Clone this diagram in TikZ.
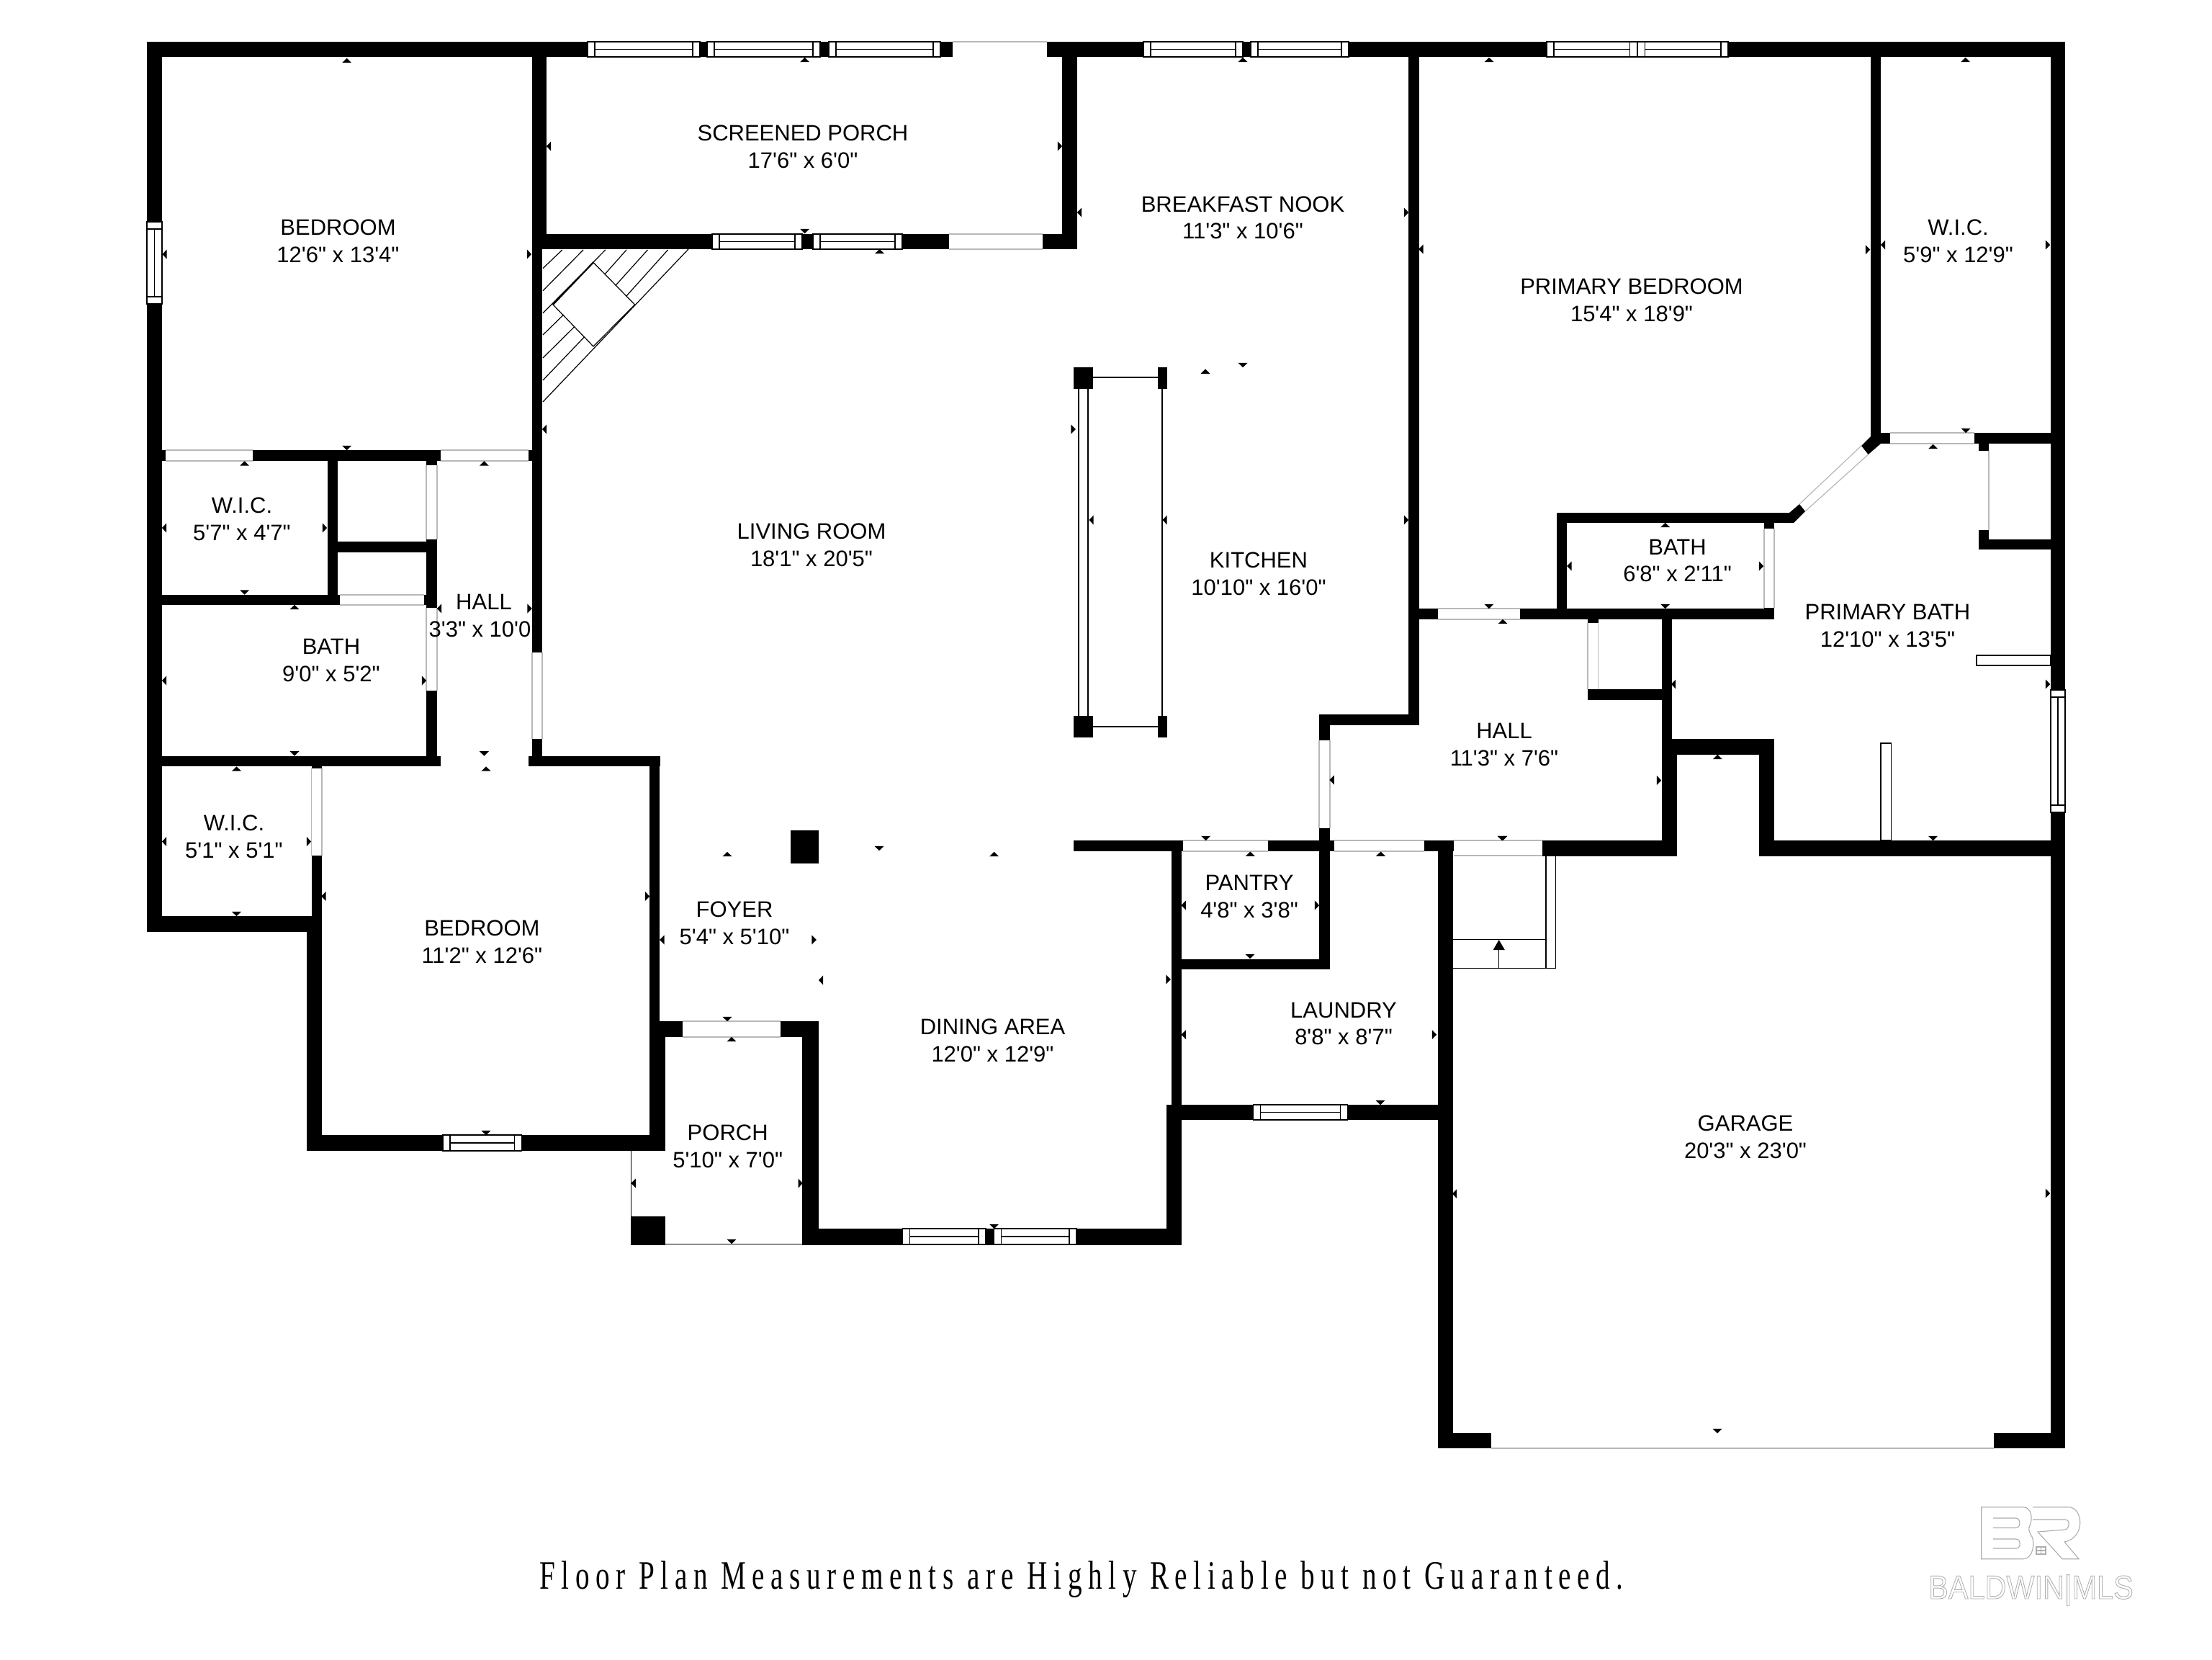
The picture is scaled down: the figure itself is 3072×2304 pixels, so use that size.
\documentclass[tikz,border=0pt]{standalone}
\usepackage{fontspec}
\newfontfamily\planfont{Liberation Sans}
\newfontfamily\footfont[LetterSpace=22]{Liberation Serif}
\definecolor{doorgray}{gray}{0.72}
\definecolor{logogray}{gray}{0.68}
\tikzset{
  wallfill/.style={fill=black,draw=none},
  thinline/.style={draw=black,line width=1.3pt},
  doorline/.style={draw=doorgray,line width=1.2pt},
  logoline/.style={draw=logogray,line width=1.1pt},
  roomlabel/.style={align=center,inner sep=0pt,font=\planfont\fontsize{31}{37.5}\selectfont},
}
\newcommand{\wl}[4]{\fill[wallfill] (#1,#2) rectangle (#3,#4);}
\newcommand{\hwin}[4]{% x1 x2 y1 y2
  \fill[white] (#1,#3) rectangle (#2,#4);
  \draw[thinline] (#1,#3) rectangle (#2,#4);
  \draw[thinline] ({#1+10},#3) -- ({#1+10},#4) ({#2-10},#3) -- ({#2-10},#4);
  \draw[thinline] ({#1+10},{(#3+#4)/2}) -- ({#2-10},{(#3+#4)/2});}
\newcommand{\vwin}[4]{% x1 x2 y1 y2
  \fill[white] (#1,#3) rectangle (#2,#4);
  \draw[thinline] (#1,#3) rectangle (#2,#4);
  \draw[thinline] (#1,{#3+10}) -- (#2,{#3+10}) (#1,{#4-10}) -- (#2,{#4-10});
  \draw[thinline] ({(#1+#2)/2},{#3+10}) -- ({(#1+#2)/2},{#4-10});}
\newcommand{\hdoor}[4]{%
  \fill[white] (#1,#3) rectangle (#2,#4);
  \draw[doorline] (#1,#3) -- (#2,#3) (#1,#4) -- (#2,#4);}
\newcommand{\vdoor}[4]{%
  \fill[white] (#1,#3) rectangle (#2,#4);
  \draw[doorline] (#1,#3) -- (#1,#4) (#2,#3) -- (#2,#4);}
\newcommand{\tku}[2]{\fill ({#1-6.5},{#2+3.2}) -- ({#1+6.5},{#2+3.2}) -- (#1,{#2-3.2}) -- cycle;}
\newcommand{\tkd}[2]{\fill ({#1-6.5},{#2-3.2}) -- ({#1+6.5},{#2-3.2}) -- (#1,{#2+3.2}) -- cycle;}
\newcommand{\tkl}[2]{\fill ({#1+3.2},{#2-6.5}) -- ({#1+3.2},{#2+6.5}) -- ({#1-3.2},#2) -- cycle;}
\newcommand{\tkr}[2]{\fill ({#1-3.2},{#2-6.5}) -- ({#1-3.2},{#2+6.5}) -- ({#1+3.2},#2) -- cycle;}
\begin{document}
\begin{tikzpicture}[x=1pt,y=-1pt]
\useasboundingbox (0,0) rectangle (3072,2304);
\fill[white] (0,0) rectangle (3072,2304);

% ---------- fireplace
\begin{scope}[draw=black,line width=1.2pt]
\draw (754,558) -- (956,346);
\draw (824,364.4) -- (881.6,423) -- (824,481) -- (768,423) -- cycle;
\draw (754,372.6) -- (780.8,347);
\draw (754,403.7) -- (810,347);
\draw (754,434.8) -- (840.8,347);
\draw[line width=2pt] (824,364.4) -- (768,423);
\draw (840,380.7) -- (870,347);
\draw (854.8,396.5) -- (899.4,347);
\draw (870,411) -- (927.5,347);
\draw (754,465) -- (782.7,437);
\draw (754,497) -- (797.4,454);
\draw (754,528) -- (811.4,468);
\end{scope}

% ---------- walls
\wl{204}{58}{2868}{79}
\wl{204}{58}{225}{1294}
\wl{739}{58}{759}{346}
\wl{739}{346}{753}{1064}
\wl{739}{325}{1496}{346}
\wl{1475}{58}{1496}{346}
\wl{204}{625}{739}{640}
\wl{454.5}{640}{469}{840}
\wl{469}{752}{592}{766.5}
\wl{592}{625}{607}{1064}
\wl{204}{826}{592}{840}
\wl{204}{1050}{612}{1064}
\wl{733.6}{1050}{917}{1064}
\wl{902}{1050}{916}{1440}
\wl{902}{1418}{923.5}{1598}
\wl{432.5}{1050}{447}{1272}
\wl{425.5}{1272}{447}{1598}
\wl{204}{1272}{447}{1294}
\wl{425.5}{1576}{923.5}{1598}
\wl{902}{1418}{1137}{1440}
\wl{1114}{1418}{1137}{1728.5}
\wl{1114}{1706}{1641}{1728.5}
\wl{1620}{1534}{1641}{1728.5}
\wl{1620}{1534}{2017.5}{1555}
\wl{1626.5}{1167}{1641}{1534}
\wl{1491}{1167}{2143}{1182}
\wl{2142}{1167}{2329}{1189}
\wl{1996.5}{1167}{2017.5}{2011}
\wl{1996.5}{1990}{2071}{2011}
\wl{2769}{1990}{2868}{2011}
\wl{2847.5}{58}{2868}{2011}
\wl{2443}{1167}{2868}{1189}
\wl{2443}{1026}{2464}{1189}
\wl{2307.6}{1026}{2464}{1048}
\wl{2307.6}{1048}{2329}{1189}
\wl{2307.6}{845}{2321.6}{1026}
\wl{2205}{957}{2307.6}{972}
\wl{2205}{845}{2219.6}{972}
\wl{1956}{845}{2464}{860}
\wl{1832}{992}{1847}{1346.4}
\wl{1832}{992}{1970.5}{1007}
\wl{1956}{58}{1970.5}{1007}
\wl{1626.5}{1332}{1847}{1346.4}
\wl{2162}{712}{2175.6}{860}
\wl{2162}{712}{2489}{726}
\wl{2450}{712}{2464}{860}
\wl{2597.5}{58}{2612}{616}
\wl{2597.5}{601}{2848}{616}
\wl{2748}{601}{2762}{763}
\wl{2748}{749}{2848}{763}
\fill[wallfill] (2480,712) -- (2485,712) -- (2499,700) -- (2507,710) -- (2491,726) -- (2480,726) -- cycle;
\fill[wallfill] (2585,619) -- (2598,606) -- (2612,606) -- (2612,616) -- (2594.6,631) -- cycle;
\draw[doorline] (2499,700) -- (2585,619) (2507,710) -- (2594.6,631);

% columns and posts
\wl{1097.5}{1153}{1137}{1199}
\wl{875.5}{1689}{923.5}{1728.5}
\wl{1491.4}{510}{1518}{539.5}
\wl{1607.5}{510}{1621}{539.5}
\wl{1491.4}{993.7}{1518}{1023.7}
\wl{1607.5}{993.7}{1621}{1023.7}

% kitchen counter lines
\begin{scope}[draw=black,line width=2pt]
\draw (1518,523.5) -- (1607.5,523.5);
\draw (1518,1008.7) -- (1607.5,1008.7);
\draw (1498,539.5) -- (1498,993.7);
\draw (1511.4,539.5) -- (1511.4,993.7);
\draw (1614.3,539.5) -- (1614.3,993.7);
\end{scope}

% ---------- doors
\hdoor{229.5}{351.4}{625}{640}
\hdoor{611.6}{733.6}{625}{640}
\hdoor{472}{589}{826}{840}
\hdoor{1643}{1761}{1167}{1182}
\hdoor{1853}{1978}{1167}{1182}
\hdoor{2019}{2142}{1167}{1188}
\hdoor{1997}{2110.5}{845}{860}
\hdoor{2625}{2742}{601}{616}
\hdoor{947.5}{1084}{1418}{1440}
\hdoor{1318}{1448}{325}{346}
\fill[white] (1323,58) rectangle (1454,79);
\draw[doorline] (1323,58) -- (1454,58);
\vdoor{592}{607}{646}{749}
\vdoor{592}{607}{844}{959}
\vdoor{739}{753}{906}{1026}
\vdoor{432.5}{447}{1067}{1188}
\vdoor{1832}{1847}{1028}{1150}
\vdoor{2205}{2219.6}{865}{957}
\vdoor{2450}{2464}{734}{844}
\fill[white] (2748,625.6) rectangle (2762,735.7);
\draw[doorline] (2762,625.6) -- (2762,735.7);
\draw[doorline] (2071,2011) -- (2769,2011);

% ---------- windows
\hwin{816}{972}{58}{79}
\hwin{982}{1139}{58}{79}
\hwin{1151}{1306}{58}{79}
\hwin{1588}{1726}{58}{79}
\hwin{1737}{1873}{58}{79}
\hwin{2148}{2273.5}{58}{79}
\hwin{2274.5}{2400}{58}{79}
\hwin{989}{1114}{325}{346}
\hwin{1129}{1253}{325}{346}
\hwin{615}{724.5}{1576}{1598}
\hwin{1253.6}{1369}{1706}{1728}
\hwin{1380.6}{1495}{1706}{1728}
\hwin{1740.5}{1871.6}{1534}{1555}
\vwin{204}{225}{308}{422}
\vwin{2848}{2868}{958}{1128}

% ---------- shower glass and garage step
\draw[thinline,fill=white] (2745,910) rectangle (2848,924);
\draw[thinline,fill=white] (2612,1032) rectangle (2626.5,1167);
\draw[thinline,fill=white] (2147,1188) rectangle (2160.6,1344.6);
\draw[thinline] (2017.5,1304.5) -- (2147,1304.5) (2017.5,1344.3) -- (2147,1344.3);
\draw[thinline] (2081.7,1344.3) -- (2081.7,1318);
\fill (2073.7,1319) -- (2089.8,1319) -- (2081.7,1305) -- cycle;

% porch thin lines
\draw[thinline] (876.5,1598) -- (876.5,1689);
\draw[thinline] (923.5,1727.5) -- (1114,1727.5);

% ---------- measurement ticks
\tku{481.7}{84}\tku{1117.6}{83}\tku{1726}{83}\tku{2068}{83}\tku{2729.6}{83}
\tkd{1117.6}{321}\tku{1221.5}{349}\tkl{762}{203}\tkr{1472}{203}
\tkl{228.5}{353}\tkr{735}{353}\tkd{481.7}{622}\tku{339.7}{643.5}\tku{672.4}{643.5}
\tkl{228}{733}\tkr{451}{733}\tkl{756}{596}\tkl{1499}{295}\tkr{1953}{295}
\tkl{1973.4}{346}\tkr{2594}{346.7}\tkl{2615}{340}\tkr{2844}{340}
\tku{1674}{515.6}\tkd{1726}{507}\tkr{1490.6}{596}\tkl{1515.5}{722}\tkl{1617.5}{722}\tkr{1953}{722}
\tkd{2730}{598}\tku{2684.5}{620}\tku{2312.7}{729}\tkl{2179.4}{786}\tkr{2446}{786}\tkd{2312.7}{842}
\tkd{2067.8}{842}\tku{2087}{863}\tkl{2324}{950}\tkr{2844}{950}\tku{2385.4}{1051}\tkr{2304}{1083.5}
\tkd{2087}{1164}\tkd{2684.5}{1164}\tkl{1849.6}{1083}
\tkd{339.7}{822.5}\tku{409}{843}\tkl{610}{845}\tkr{735.6}{845}\tkl{228}{945}\tkr{589}{945}
\tkd{409}{1046.4}\tkd{672.4}{1046.4}\tku{675}{1067.5}\tku{328.5}{1067.5}\tkl{228}{1168.5}\tkr{429}{1168.5}
\tkd{328.5}{1269}\tkl{449.4}{1244.5}\tkr{899}{1244.5}\tkl{919.4}{1305}
\tku{1010}{1186}\tkr{1130.6}{1305}\tkl{1140}{1361}\tkd{1010}{1415}\tku{1016}{1443}\tkd{675}{1573}
\tkl{879.6}{1643}\tkr{1111.7}{1643}\tkd{1016}{1724}
\tkd{1221}{1178}\tku{1380.6}{1186}\tkr{1622.6}{1360}\tkd{1674.6}{1164}\tku{1736.4}{1185.7}
\tkd{2086}{1164}\tku{1917.5}{1185.7}\tkl{1643.7}{1257}\tkr{1829}{1257}\tkd{1736}{1328}
\tkl{1643.7}{1436.6}\tkr{1992}{1436.6}\tkd{1917}{1531}\tkl{2020}{1657.5}\tkd{1380.6}{1703}
\tkd{2385}{1987}\tkr{2844}{1657}

% ---------- room labels
\node[roomlabel] (r1) at (469.5,335) {BEDROOM\\12'6" x 13'4"};
\node[roomlabel] (r2) at (1115,204) {SCREENED PORCH\\17'6" x 6'0"};
\node[roomlabel] (r3) at (1726,302.5) {BREAKFAST NOOK\\11'3" x 10'6"};
\node[roomlabel] (r4) at (2266,417) {PRIMARY BEDROOM\\15'4" x 18'9"};
\node[roomlabel] (r5) at (2719.5,335) {W.I.C.\\5'9" x 12'9"};
\node[roomlabel] (r6) at (336,720.6) {W.I.C.\\5'7" x 4'7"};
\node[roomlabel] (r7) at (672,855) {HALL\\3'3" x 10'0\phantom{"}};
\node[roomlabel] (r8) at (460,917) {BATH\\9'0" x 5'2"};
\node[roomlabel] (r9) at (1127,757) {LIVING ROOM\\18'1" x 20'5"};
\node[roomlabel] (r10) at (1748,797) {KITCHEN\\10'10" x 16'0"};
\node[roomlabel] (r11) at (2329.5,778.7) {BATH\\6'8" x 2'11"};
\node[roomlabel] (r12) at (2621.4,869) {PRIMARY BATH\\12'10" x 13'5"};
\node[roomlabel] (r13) at (2089,1034) {HALL\\11'3" x 7'6"};
\node[roomlabel] (r14) at (325,1162) {W.I.C.\\5'1" x 5'1"};
\node[roomlabel] (r15) at (669.4,1308) {BEDROOM\\11'2" x 12'6"};
\node[roomlabel] (r16) at (1020,1282) {FOYER\\5'4" x 5'10"};
\node[roomlabel] (r17) at (1010.7,1592) {PORCH\\5'10" x 7'0"};
\node[roomlabel] (r18) at (1378.5,1445) {DINING AREA\\12'0" x 12'9"};
\node[roomlabel] (r19) at (1735,1245) {PANTRY\\4'8" x 3'8"};
\node[roomlabel] (r20) at (1866,1421.5) {LAUNDRY\\8'8" x 8'7"};
\node[roomlabel] (r21) at (2424,1579) {GARAGE\\20'3" x 23'0"};

% ---------- footer
\node[inner sep=0pt,anchor=base,transform shape,xscale=0.7,font=\footfont\fontsize{56}{60}\selectfont] (foot) at (1502,2206.5)
  {Floor Plan Measurements are Highly Reliable but not Guaranteed.};

% ---------- logo
\begin{scope}[logoline]
\draw (2751.7,2092.7) -- (2810,2092.7) .. controls (2822,2093) and (2823,2110) .. (2819,2118) .. controls (2817,2122) and (2817,2126) .. (2822,2134) .. controls (2826,2142) and (2824,2164) .. (2810,2164.7) -- (2751.7,2164.7) -- cycle;
\draw (2768,2108) -- (2800,2108) .. controls (2806,2108) and (2807,2121) .. (2800,2121.5) -- (2768,2121.5);
\draw (2768,2137) -- (2800,2137) .. controls (2807,2137) and (2807,2150) .. (2800,2150) -- (2768,2150);
\draw (2823,2092.7) -- (2873,2092.7) .. controls (2893,2093) and (2897,2135) .. (2867,2141) -- (2887,2164.7) -- (2864,2164.7) -- (2830,2127) -- (2868,2124) .. controls (2875,2122) and (2875,2110) .. (2868,2110) -- (2823,2110);
\draw (2828,2148) rectangle (2841,2158);
\draw (2834.5,2148) -- (2834.5,2158) (2828,2153) -- (2841,2153);
\end{scope}
\node[inner sep=0pt,anchor=base,transform shape,xscale=0.9,font=\planfont\fontsize{46}{50}\selectfont] (mls) at (2820.5,2220)
  {\special{pdf:code q 0.68 G 0.9 w 1 Tr}BALDWIN|MLS\special{pdf:code Q}};
\end{tikzpicture}
\end{document}
